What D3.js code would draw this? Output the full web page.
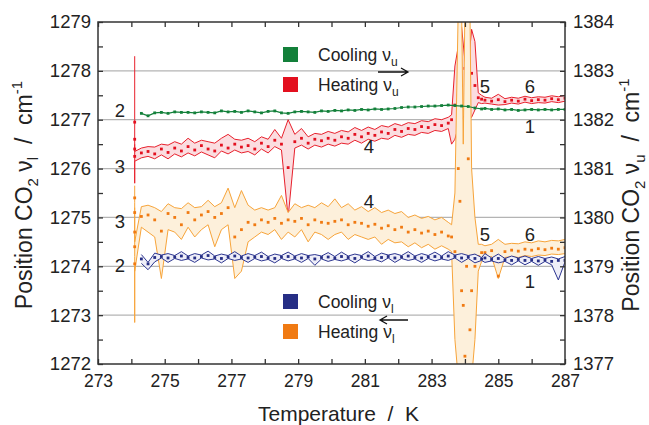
<!DOCTYPE html>
<html>
<head>
<meta charset="utf-8">
<script src="https://cdn.jsdelivr.net/npm/d3@7"></script>
<style>
    body { margin: 0; background: #fff; }
    svg { font-family: "Liberation Sans", Arial, sans-serif; }
</style>
</head>
<body>
<svg id="chart" width="649" height="425"></svg>
<script>
(function(d3) {

    "use strict";

    // tick labels
    var xTickLabels = [273, 275, 277, 279, 281, 283, 285, 287];
    var yLeftLabels = [1272, 1273, 1274, 1275, 1276, 1277, 1278, 1279];
    var yRightLabels = [1377, 1378, 1379, 1380, 1381, 1382, 1383, 1384];

    // temperatures (K)
    var tempMain = [
        274.3, 274.5, 274.7, 274.9, 275.1, 275.3, 275.5, 275.7, 275.9, 276.1,
        276.3, 276.5, 276.7, 276.9, 277.1, 277.3, 277.5, 277.7, 277.9, 278.1,
        278.3, 278.5, 278.7, 278.9, 279.1, 279.3, 279.5, 279.7, 279.9, 280.1,
        280.3, 280.5, 280.7, 280.9, 281.1, 281.3, 281.5, 281.7, 281.9, 282.1,
        282.3, 282.5, 282.7, 282.9, 283.1, 283.3, 283.5
    ];
    var tempMid = [283.7, 283.9, 284.1, 284.3, 284.5];
    var tempTail = [284.6, 284.8, 285.0, 285.2, 285.4, 285.6, 285.8, 286.0, 286.2, 286.4, 286.6, 286.8, 287.0];
    var tempRedStart = [274.1, 274.1, 274.1, 274.1];
    var tempRedSpike = [283.6, 283.7, 283.8, 283.9, 284.0, 284.1, 284.2, 284.3, 284.4, 284.5];
    var tempOrangeStart = [274.1, 274.1, 274.1, 274.1, 274.1];
    var tempOrangeSpike = [283.6, 283.7, 283.8, 283.85, 283.9, 283.95, 284.0, 284.05, 284.1, 284.15, 284.2, 284.3, 284.4, 284.5];

    // Cooling nu_u (right axis)
    var coolU = [
        1382.13, 1382.08, 1382.14, 1382.15, 1382.13, 1382.16, 1382.15, 1382.15, 1382.14, 1382.16,
        1382.15, 1382.14, 1382.18, 1382.16, 1382.17, 1382.15, 1382.18, 1382.16, 1382.14, 1382.17,
        1382.18, 1382.14, 1382.13, 1382.16, 1382.17, 1382.16, 1382.15, 1382.18, 1382.17, 1382.19,
        1382.18, 1382.20, 1382.19, 1382.21, 1382.20, 1382.22, 1382.21, 1382.22, 1382.23, 1382.25,
        1382.26, 1382.26, 1382.27, 1382.28, 1382.28, 1382.29, 1382.30,
        1382.29, 1382.28, 1382.27, 1382.24, 1382.22,
        1382.23, 1382.21, 1382.22, 1382.20, 1382.21, 1382.19, 1382.20, 1382.21, 1382.20, 1382.21,
        1382.20, 1382.21, 1382.21
    ];

    // Heating nu_u (right axis): mean, upper, lower
    var heatUMean = [
        1381.95, 1381.60, 1381.40, 1381.25,
        1381.32, 1381.35, 1381.30, 1381.40, 1381.33, 1381.42, 1381.36, 1381.45, 1381.38, 1381.47,
        1381.40, 1381.36, 1381.48, 1381.42, 1381.50, 1381.44, 1381.47, 1381.40, 1381.52, 1381.45,
        1381.58, 1381.50, 1381.02, 1381.55, 1381.62, 1381.52, 1381.60, 1381.57, 1381.62, 1381.58,
        1381.65, 1381.62, 1381.70, 1381.65, 1381.72, 1381.68, 1381.75, 1381.72, 1381.80, 1381.76,
        1381.82, 1381.80, 1381.86, 1381.84, 1381.90, 1381.88, 1381.93,
        1382.00, 1382.30, 1382.50, 1382.70, 1383.05, 1382.40, 1382.95, 1382.70, 1382.45, 1382.42,
        1382.40, 1382.38, 1382.41, 1382.37, 1382.40, 1382.38, 1382.42, 1382.39, 1382.41, 1382.40,
        1382.43, 1382.41, 1382.44
    ];
    var heatUUpper = [
        1383.30, 1382.00, 1381.50, 1381.35,
        1381.42, 1381.45, 1381.44, 1381.50, 1381.48, 1381.55, 1381.50, 1381.62, 1381.52, 1381.58,
        1381.55, 1381.52, 1381.62, 1381.70, 1381.60, 1381.58, 1381.62, 1381.55, 1381.65, 1381.60,
        1381.80, 1381.62, 1382.00, 1381.70, 1381.82, 1381.65, 1381.72, 1381.70, 1381.76, 1381.72,
        1381.78, 1381.75, 1381.84, 1381.78, 1381.85, 1381.80, 1381.88, 1381.85, 1381.92, 1381.88,
        1381.94, 1381.92, 1381.98, 1381.96, 1382.02, 1382.00, 1382.05,
        1382.10, 1383.10, 1383.50, 1383.90, 1383.20, 1383.10, 1383.85, 1383.60, 1382.55, 1382.50,
        1382.46, 1382.44, 1382.52, 1382.43, 1382.46, 1382.44, 1382.48, 1382.45, 1382.47, 1382.46,
        1382.49, 1382.47, 1382.50
    ];
    var heatULower = [
        1381.50, 1381.10, 1380.70, 1381.15,
        1381.22, 1381.25, 1381.20, 1381.28, 1381.20, 1381.30, 1381.24, 1381.32, 1381.26, 1381.34,
        1381.28, 1381.22, 1381.36, 1381.30, 1381.38, 1381.32, 1381.35, 1381.28, 1381.40, 1381.32,
        1381.45, 1381.38, 1380.00, 1381.42, 1381.48, 1381.40, 1381.48, 1381.44, 1381.50, 1381.46,
        1381.52, 1381.50, 1381.58, 1381.52, 1381.60, 1381.56, 1381.62, 1381.60, 1381.68, 1381.64,
        1381.70, 1381.68, 1381.74, 1381.72, 1381.78, 1381.76, 1381.82,
        1381.50, 1381.60, 1381.85, 1382.00, 1382.10, 1382.00, 1382.05, 1382.20, 1382.35, 1382.33,
        1382.34, 1382.32, 1382.30, 1382.31, 1382.34, 1382.32, 1382.36, 1382.33, 1382.35, 1382.34,
        1382.37, 1382.35, 1382.38
    ];

    // Cooling nu_l (left axis)
    var coolLMean = [
        1274.15, 1274.05, 1274.18, 1274.20, 1274.17, 1274.19, 1274.21, 1274.18, 1274.17, 1274.20,
        1274.22, 1274.18, 1274.16, 1274.19, 1274.21, 1274.18, 1274.17, 1274.19, 1274.20, 1274.17,
        1274.16, 1274.19, 1274.20, 1274.18, 1274.17, 1274.19, 1274.15, 1274.18, 1274.19, 1274.17,
        1274.20, 1274.18, 1274.16, 1274.19, 1274.21, 1274.17, 1274.18, 1274.20, 1274.17, 1274.19,
        1274.21, 1274.18, 1274.17, 1274.19, 1274.20, 1274.18, 1274.21, 1274.20, 1274.17, 1274.19,
        1274.16, 1274.15, 1274.17, 1274.14, 1274.16, 1274.13, 1274.12, 1274.14, 1274.12, 1274.13,
        1274.11, 1274.13, 1274.10, 1274.12, 1274.12
    ];
    var coolLUpper = [
        1274.24, 1274.08, 1274.27, 1274.23, 1274.26, 1274.22, 1274.30, 1274.21, 1274.26, 1274.23,
        1274.31, 1274.21, 1274.25, 1274.22, 1274.30, 1274.21, 1274.26, 1274.22, 1274.29, 1274.20,
        1274.25, 1274.22, 1274.29, 1274.21, 1274.26, 1274.22, 1274.24, 1274.21, 1274.28, 1274.20,
        1274.29, 1274.21, 1274.25, 1274.22, 1274.30, 1274.20, 1274.27, 1274.23, 1274.26, 1274.22,
        1274.30, 1274.21, 1274.26, 1274.22, 1274.29, 1274.21, 1274.30, 1274.23, 1274.26, 1274.22,
        1274.25, 1274.18, 1274.26, 1274.17, 1274.25, 1274.16, 1274.21, 1274.17, 1274.21, 1274.16,
        1274.20, 1274.16, 1274.19, 1274.15, 1274.20
    ];
    var coolLLower = [
        1274.06, 1273.93, 1274.09, 1274.17, 1274.08, 1274.16, 1274.12, 1274.15, 1274.08, 1274.17,
        1274.13, 1274.15, 1274.07, 1274.16, 1274.12, 1274.15, 1274.08, 1274.16, 1274.11, 1274.14,
        1274.07, 1274.16, 1274.11, 1274.15, 1274.08, 1274.16, 1274.02, 1274.15, 1274.10, 1274.14,
        1274.11, 1274.15, 1274.07, 1274.16, 1274.12, 1274.14, 1274.09, 1274.17, 1274.08, 1274.16,
        1274.12, 1274.15, 1274.08, 1274.16, 1274.11, 1274.15, 1274.12, 1274.17, 1274.08, 1274.16,
        1274.07, 1274.12, 1274.08, 1274.11, 1274.07, 1274.10, 1274.03, 1274.11, 1274.03, 1274.10,
        1274.02, 1274.10, 1274.03, 1273.72, 1274.09
    ];

    // Heating nu_l (left axis)
    var heatLMean = [
        1275.40, 1275.10, 1274.70, 1274.40, 1274.05,
        1275.02, 1275.05, 1274.95, 1274.72, 1275.08, 1275.00, 1274.85, 1275.10, 1274.95, 1275.05,
        1275.12, 1275.00, 1275.08, 1275.20, 1274.60, 1274.75, 1274.90, 1274.85, 1274.95, 1274.90,
        1274.98, 1274.88, 1274.95, 1274.92, 1274.98, 1274.85, 1274.95, 1274.90, 1274.88, 1274.92,
        1274.95, 1274.85, 1274.90, 1274.88, 1274.82, 1274.86, 1274.78, 1274.83, 1274.75, 1274.80,
        1274.70, 1274.75, 1274.68, 1274.72, 1274.65, 1274.70, 1274.62,
        1274.60, 1274.30, 1276.00, 1275.33, 1273.50, 1273.20, 1272.16, 1274.00, 1276.20, 1272.70,
        1273.50, 1274.00, 1274.20, 1274.28,
        1274.28, 1274.32, 1273.80, 1274.30, 1274.33, 1274.31, 1274.35, 1274.33, 1274.36, 1274.34,
        1274.37, 1274.35, 1274.38
    ];
    var heatLUpper = [
        1275.65, 1275.50, 1275.30, 1275.00, 1274.50,
        1275.22, 1275.25, 1275.20, 1275.12, 1275.28, 1275.20, 1275.18, 1275.30, 1275.20, 1275.22,
        1275.35, 1275.22, 1275.30, 1275.60, 1275.20, 1275.55, 1275.25, 1275.15, 1275.20, 1275.15,
        1275.20, 1275.45, 1275.10, 1275.28, 1275.20, 1275.25, 1275.20, 1275.30, 1275.22, 1275.38,
        1275.20, 1275.28, 1275.15, 1275.22, 1275.12, 1275.20, 1275.10, 1275.15, 1275.08, 1275.12,
        1275.00, 1275.05, 1274.98, 1275.02, 1274.95, 1275.00, 1274.90,
        1274.85, 1275.50, 1279.30, 1279.30, 1279.30, 1276.50, 1279.30, 1279.30, 1279.30, 1279.30,
        1276.00, 1275.00, 1274.45, 1274.45,
        1274.42, 1274.45, 1274.55, 1274.45, 1274.47, 1274.46, 1274.50, 1274.48, 1274.52, 1274.50,
        1274.53, 1274.52, 1274.55
    ];
    var heatLLower = [
        1275.20, 1274.20, 1272.85, 1274.00, 1273.90,
        1274.80, 1274.70, 1274.60, 1273.75, 1274.75, 1274.70, 1274.55, 1274.80, 1274.60, 1274.75,
        1274.85, 1274.40, 1274.75, 1274.85, 1273.75, 1273.90, 1274.50, 1274.60, 1274.70, 1274.65,
        1274.75, 1274.55, 1274.70, 1274.60, 1274.75, 1274.50, 1274.70, 1274.65, 1274.55, 1274.65,
        1274.70, 1274.55, 1274.65, 1274.60, 1274.55, 1274.60, 1274.45, 1274.55, 1274.48, 1274.50,
        1274.40, 1274.48, 1274.38, 1274.45, 1274.35, 1274.42, 1274.35,
        1274.30, 1272.50, 1271.70, 1271.70, 1271.70, 1271.70, 1271.70, 1271.70, 1271.70, 1271.70,
        1271.70, 1272.50, 1273.90, 1274.10,
        1274.15, 1274.20, 1273.75, 1274.18, 1274.20, 1274.18, 1274.22, 1274.20, 1274.23, 1274.22,
        1274.25, 1274.24, 1274.26
    ];

    // curve labels (position in left axis units)
    var curveLabels = [
        { t: "2", x: 273.66, v: 1277.05 }, { t: "3", x: 273.66, v: 1275.90 },
        { t: "3", x: 273.66, v: 1274.79 }, { t: "2", x: 273.66, v: 1273.89 },
        { t: "4", x: 281.12, v: 1276.31 }, { t: "4", x: 281.12, v: 1275.20 },
        { t: "5", x: 284.6, v: 1277.54 }, { t: "6", x: 285.95, v: 1277.54 },
        { t: "1", x: 285.95, v: 1276.72 }, { t: "5", x: 284.6, v: 1274.52 },
        { t: "6", x: 285.95, v: 1274.52 }, { t: "1", x: 285.95, v: 1273.56 }
    ];

    var margin = { left: 98, right: 84, top: 22, bottom: 61 };
    var width = 649, height = 425;
    var pw = width - margin.left - margin.right;
    var ph = height - margin.top - margin.bottom;

    var x = d3.scaleLinear().domain([273, 287]).range([margin.left, margin.left + pw]);
    var yL = d3.scaleLinear().domain([1272, 1279]).range([margin.top + ph, margin.top]);
    var yR = d3.scaleLinear().domain([1377, 1384]).range([margin.top + ph, margin.top]);

    var svg = d3.select("#chart");
    var axisColor = "#333";
    var textColor = "#222";
    var nb = "\u00a0";

    svg.append("defs").append("clipPath").attr("id", "plotclip")
        .append("rect")
        .attr("x", margin.left).attr("y", margin.top)
        .attr("width", pw).attr("height", ph);

    // grid lines
    svg.append("g").selectAll("line")
        .data(yLeftLabels.slice(1, -1))
        .enter().append("line")
        .attr("x1", margin.left).attr("x2", margin.left + pw)
        .attr("y1", function(d) { return yL(d); })
        .attr("y2", function(d) { return yL(d); })
        .attr("stroke", "#b4b4b4").attr("stroke-width", 1.2);

    var plot = svg.append("g").attr("clip-path", "url(#plotclip)");

    function rows(temps, mean, upper, lower) {
        return temps.map(function(t, i) {
            return { t: t, m: mean[i], u: upper ? upper[i] : null, l: lower ? lower[i] : null };
        });
    }

    function drawBand(data, y, lineColor, fillColor, dotColor) {
        var g = plot.append("g");
        g.append("path").datum(data)
            .attr("d", d3.area()
                .x(function(d) { return x(d.t); })
                .y0(function(d) { return y(d.l); })
                .y1(function(d) { return y(d.u); }))
            .attr("fill", fillColor);
        ["u", "l"].forEach(function(k) {
            g.append("path").datum(data)
                .attr("d", d3.line()
                    .x(function(d) { return x(d.t); })
                    .y(function(d) { return y(d[k]); }))
                .attr("fill", "none")
                .attr("stroke", lineColor)
                .attr("stroke-width", 1);
        });
        drawDots(g, data, y, dotColor);
    }

    function drawDots(g, data, y, color) {
        g.selectAll("rect.dot")
            .data(data)
            .enter().append("rect")
            .attr("class", "dot")
            .attr("x", function(d) { return x(d.t) - 1.4; })
            .attr("y", function(d) { return y(d.m) - 1.4; })
            .attr("width", 2.8).attr("height", 2.8)
            .attr("fill", color);
    }

    var heatU = rows(tempRedStart.concat(tempMain, tempRedSpike, tempTail), heatUMean, heatUUpper, heatULower);
    var heatL = rows(tempOrangeStart.concat(tempMain, tempOrangeSpike, tempTail), heatLMean, heatLUpper, heatLLower);
    var coolL = rows(tempMain.concat(tempMid, tempTail), coolLMean, coolLUpper, coolLLower);
    var coolUData = rows(tempMain.concat(tempMid, tempTail), coolU);

    drawBand(heatU, yR, "#e8202c", "#fbdde0", "#e3101f");
    drawBand(heatL, yL, "#f7a43a", "#fdf0db", "#f07a12");
    drawBand(coolL, yL, "#2c3590", "#eeeef8", "#262e85");

    var gGreen = plot.append("g");
    gGreen.append("path").datum(coolUData)
        .attr("d", d3.line()
            .x(function(d) { return x(d.t); })
            .y(function(d) { return yR(d.m); }))
        .attr("fill", "none").attr("stroke", "#13803a").attr("stroke-width", 1.2);
    drawDots(gGreen, coolUData, yR, "#13803a");

    // axes
    var xTicks = d3.range(273, 288, 1);
    var axB = svg.append("g")
        .attr("transform", "translate(0," + (margin.top + ph) + ")")
        .call(d3.axisBottom(x).tickValues(xTicks).tickSizeInner(-5).tickSizeOuter(0).tickPadding(11)
            .tickFormat(function(d) { return xTickLabels.indexOf(d) >= 0 ? d : ""; }));
    var axT = svg.append("g")
        .attr("transform", "translate(0," + margin.top + ")")
        .call(d3.axisTop(x).tickValues(xTicks).tickSizeInner(-5).tickSizeOuter(0).tickFormat(""));
    var axL = svg.append("g")
        .attr("transform", "translate(" + margin.left + ",0)")
        .call(d3.axisLeft(yL).tickValues(d3.range(1272, 1279.01, 0.5)).tickSizeInner(-5).tickSizeOuter(0).tickPadding(7)
            .tickFormat(function(d) { return yLeftLabels.indexOf(d) >= 0 ? d : ""; }));
    var axR = svg.append("g")
        .attr("transform", "translate(" + (margin.left + pw) + ",0)")
        .call(d3.axisRight(yR).tickValues(d3.range(1377, 1384.01, 0.5)).tickSizeInner(-5).tickSizeOuter(0).tickPadding(8)
            .tickFormat(function(d) { return yRightLabels.indexOf(d) >= 0 ? d : ""; }));

    [axB, axT, axL, axR].forEach(function(a) {
        a.select(".domain").remove();
        a.selectAll(".tick line").attr("stroke", axisColor).attr("stroke-width", 1.3);
        a.selectAll(".tick text").attr("fill", textColor)
            .style("font-family", "'Liberation Sans', Arial, sans-serif");
    });
    axB.selectAll(".tick text").style("font-size", "17.5px");
    axL.selectAll(".tick text").style("font-size", "18.5px");
    axR.selectAll(".tick text").style("font-size", "18.5px");

    svg.append("rect")
        .attr("x", margin.left).attr("y", margin.top)
        .attr("width", pw).attr("height", ph)
        .attr("fill", "none").attr("stroke", axisColor).attr("stroke-width", 1.5);

    // rich text with sub / superscripts
    function richText(sel, parts, size) {
        var small = Math.round(size * 0.66);
        var shift = 0;
        parts.forEach(function(p) {
            var ts = sel.append("tspan").text(p[0]);
            var target = p[1] === "sub" ? size * 0.27 : (p[1] === "sup" ? -size * 0.42 : 0);
            ts.attr("dy", target - shift);
            if (p[1] !== "n") ts.style("font-size", small + "px");
            shift = target;
        });
    }

    var slash = nb + nb + "/" + nb + nb;

    var yTitleL = svg.append("text")
        .attr("transform", "translate(32," + (margin.top + ph / 2 + 2) + ") rotate(-90)")
        .attr("text-anchor", "middle").attr("fill", textColor).style("font-size", "23px");
    richText(yTitleL, [["Position CO", "n"], ["2", "sub"], [nb + "\u03bd", "n"], ["l", "sub"], [slash + "cm", "n"], ["-1", "sup"]], 23);

    var yTitleR = svg.append("text")
        .attr("transform", "translate(639," + (margin.top + ph / 2 + 2) + ") rotate(-90)")
        .attr("text-anchor", "middle").attr("fill", textColor).style("font-size", "23px");
    richText(yTitleR, [["Position CO", "n"], ["2", "sub"], [nb + "\u03bd", "n"], ["u", "sub"], [slash + "cm", "n"], ["-1", "sup"]], 23);

    svg.append("text")
        .attr("x", margin.left + pw / 2 + 7).attr("y", 421)
        .attr("text-anchor", "middle").attr("fill", textColor)
        .style("font-size", "21px")
        .text("Temperature" + slash + "K");

    // curve numbers
    svg.append("g").selectAll("text")
        .data(curveLabels)
        .enter().append("text")
        .attr("x", function(d) { return x(d.x); })
        .attr("y", function(d) { return yL(d.v); })
        .attr("text-anchor", "middle").attr("fill", textColor)
        .style("font-size", "18.5px")
        .text(function(d) { return d.t; });

    // legends
    var legendItems = [
        { label: "Cooling \u03bd", sub: "u", color: "#13803a", y: 47 },
        { label: "Heating \u03bd", sub: "u", color: "#e3101f", y: 77 },
        { label: "Cooling \u03bd", sub: "l", color: "#262e85", y: 294 },
        { label: "Heating \u03bd", sub: "l", color: "#f07a12", y: 324 }
    ];
    var leg = svg.append("g").selectAll("g")
        .data(legendItems)
        .enter().append("g");
    leg.append("rect")
        .attr("x", 283).attr("y", function(d) { return d.y; })
        .attr("width", 15).attr("height", 15)
        .attr("fill", function(d) { return d.color; });
    leg.each(function(d) {
        var t = d3.select(this).append("text")
            .attr("x", 318).attr("y", d.y + 14)
            .attr("fill", textColor).style("font-size", "17.5px");
        richText(t, [[d.label, "n"], [d.sub, "sub"]], 17.5);
    });

    // arrows
    function arrow(x1, x2, y) {
        var dir = x2 > x1 ? 1 : -1;
        svg.append("path")
            .attr("d", "M" + x1 + "," + y + "L" + x2 + "," + y +
                "M" + (x2 - dir * 7) + "," + (y - 4) + "L" + x2 + "," + y + "L" + (x2 - dir * 7) + "," + (y + 4))
            .attr("fill", "none").attr("stroke", "#111").attr("stroke-width", 1.3);
    }
    arrow(378, 408, 72);
    arrow(408, 380, 320);

})(d3);
</script>
</body>
</html>
